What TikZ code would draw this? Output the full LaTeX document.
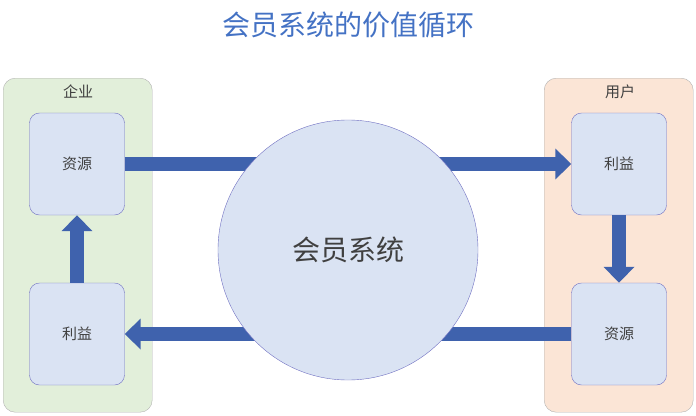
\documentclass[tikz,border=0pt]{standalone}
\usepackage{fontspec}
\newfontfamily\cjk{Noto Sans CJK SC}
\usetikzlibrary{arrows.meta}
\definecolor{panelG}{HTML}{E2EFDA}
\definecolor{panelO}{HTML}{FBE5D6}
\definecolor{boxB}{HTML}{DAE3F3}
\definecolor{arrB}{HTML}{3F62AD}
\definecolor{titleB}{HTML}{4472C4}
\definecolor{txt}{HTML}{404040}
\tikzset{
 panel/.style={draw=gray!60,rounded corners=12pt,minimum width=149pt,minimum height=334pt,anchor=north west},
 bx/.style={draw=gray!60!blue!80,fill=boxB,rounded corners=10pt,minimum width=95pt,minimum height=102pt,text=txt,font=\cjk\fontsize{15}{18}\selectfont},
 blk/.style={arrB,line width=14pt,-{Triangle[length=16pt,width=30pt]}},
 lbl/.style={text=txt,font=\cjk\fontsize{15}{18}\selectfont}
}
\begin{document}
\begin{tikzpicture}[x=1pt,y=-1pt]
\useasboundingbox (0,0) rectangle (696,415);
\node[font=\cjk\fontsize{28}{32}\selectfont,text=titleB] (title) at (348,25) {会员系统的价值循环};
\node[panel,fill=panelG] (pl) at (3,78) {};
\node[panel,fill=panelO] (pr) at (544,78) {};
\node[lbl] (ql) at (78,92) {企业};
\node[lbl] (qr) at (620,92) {用户};
\node[bx] (l1) at (77,164) {资源};
\node[bx] (l2) at (77,334) {利益};
\node[bx] (r1) at (619,164) {利益};
\node[bx] (r2) at (619,334) {资源};
\draw[blk] (l1.east) -- (r1.west);
\draw[blk] (r2.west) -- (l2.east);
\draw[blk] (l2.north) -- (l1.south);
\draw[blk] (r1.south) -- (r2.north);
\node[circle,draw=gray!60!blue!80,fill=boxB,minimum size=260pt,text=txt,font=\cjk\fontsize{28}{32}\selectfont] (c) at (348,250) {会员系统};
\end{tikzpicture}
\end{document}
